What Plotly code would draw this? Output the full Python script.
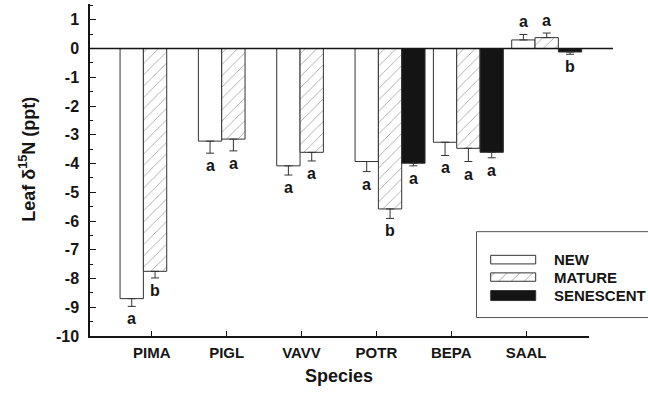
import plotly.graph_objects as go

# ---------------- data ----------------
SPECIES = ["PIMA", "PIGL", "VAVV", "POTR", "BEPA", "SAAL"]
NEW = [-8.70, -3.22, -4.08, -3.93, -3.26, 0.30]
NEW_ERR = [0.27, 0.42, 0.32, 0.35, 0.46, 0.19]
MATURE = [-7.75, -3.15, -3.61, -5.58, -3.47, 0.38]
MATURE_ERR = [0.23, 0.41, 0.30, 0.33, 0.46, 0.16]
SENESCENT = [None, None, None, -3.99, -3.61, -0.12]
SENESCENT_ERR = [None, None, None, 0.09, 0.19, 0.08]
NEW_SIG = ["a", "a", "a", "a", "a", "a"]
MATURE_SIG = ["b", "a", "a", "b", "a", "a"]
SENESCENT_SIG = [None, None, None, "a", "a", "b"]
Y_TICKS = [1, 0, -1, -2, -3, -4, -5, -6, -7, -8, -9, -10]

# ---------------- layout constants ----------------
FONT = "Liberation Sans, Arial, sans-serif"
INK = "#151515"
BAR_W = 0.3116
GROUP_STEP = 1.0462
GROUP_START = -0.4234
X_RANGE = [-0.8249, 5.8399]
Y_RANGE = [-10, 1.55]


def bold(size):
    return dict(family=FONT, size=size, color=INK, weight="bold")


series = [
    ("NEW", NEW, NEW_ERR, NEW_SIG, dict(color="white")),
    ("MATURE", MATURE, MATURE_ERR, MATURE_SIG,
     dict(color="white", pattern=dict(shape="/", size=8, solidity=0.1,
                                      fgcolor="#3a3a3a", bgcolor="white"))),
    ("SENESCENT", SENESCENT, SENESCENT_ERR, SENESCENT_SIG, dict(color="#141414")),
]

fig = go.Figure()
annotations = []
for s, (name, vals, errs, sigs, mk) in enumerate(series):
    xs, ys, ep, em = [], [], [], []
    for g, v in enumerate(vals):
        if v is None:
            continue
        xc = GROUP_START + g * GROUP_STEP + (s + 0.5) * BAR_W
        xs.append(xc)
        ys.append(v)
        e = errs[g]
        ep.append(e if v >= 0 else 0)
        em.append(e if v < 0 else 0)
        if sigs[g]:
            end = v + e if v >= 0 else v - e
            annotations.append(dict(
                x=xc, y=end, xref="x", yref="y", text=sigs[g], showarrow=False,
                yanchor="bottom" if v >= 0 else "top",
                yshift=2 if v >= 0 else -2,
                font=bold(16)))
    fig.add_trace(go.Bar(
        x=xs, y=ys, width=BAR_W, name=name, showlegend=False,
        marker=dict(line=dict(color="#333333", width=1), **mk),
        error_y=dict(type="data", symmetric=False, array=ep, arrayminus=em,
                     color="#333333", thickness=1, width=4),
    ))

# ---------------- custom legend (helper axes, pixel-like units) ----------------
LEG_ROWS = [("NEW", 255.7, 264.3, dict(fillcolor="white")),
            ("MATURE", 273.3, 281.7, dict(fillcolor="white",
                                           fillpattern=dict(shape="/", size=9, solidity=0.1,
                                                            fgcolor="#3a3a3a", bgcolor="white"))),
            ("SENESCENT", 291.0, 301.0, dict(fillcolor="#141414"))]
SW_X0, SW_X1, TXT_X = 490.7, 535.7, 551.5
for name, y0, y1, fill in LEG_ROWS:
    fig.add_trace(go.Scatter(
        x=[SW_X0, SW_X1, SW_X1, SW_X0, SW_X0], y=[y0, y0, y1, y1, y0],
        xaxis="x2", yaxis="y2", mode="lines", fill="toself",
        line=dict(color="#333333", width=1), showlegend=False, hoverinfo="skip", **fill))
    annotations.append(dict(x=TXT_X, y=(y0 + y1) / 2, xref="x2", yref="y2", text=name,
                            showarrow=False, xanchor="left", yanchor="middle",
                            font=bold(15)))

# axis titles
annotations.append(dict(x=0.4471, y=-0.119, xref="paper", yref="paper", text="Species",
                        showarrow=False, xanchor="center", yanchor="middle",
                        font=bold(18)))
annotations.append(dict(x=-0.111, y=0.531, xref="paper", yref="paper",
                        text="Leaf δ<sup>15</sup>N (ppt)", textangle=-90,
                        showarrow=False, xanchor="center", yanchor="middle",
                        font=bold(18)))

shapes = [
    # zero line extending past plot
    dict(type="line", xref="paper", yref="y", x0=0, x1=0.9373, y0=0, y1=0,
         line=dict(color=INK, width=1.5), layer="above"),
    # legend frame (right side cut off by the page edge)
    dict(type="rect", xref="x2", yref="y2", x0=476.5, x1=700, y0=232, y1=318,
         line=dict(color="#555555", width=1), fillcolor="rgba(0,0,0,0)", layer="below"),
]

fig.update_layout(
    width=648, height=394,
    margin=dict(l=90, r=0, t=4, b=57.5),
    paper_bgcolor="white", plot_bgcolor="white",
    barmode="overlay",
    font=dict(family=FONT, color=INK),
    xaxis=dict(domain=[0, 499 / 558], range=X_RANGE, tickvals=list(range(len(SPECIES))),
               ticktext=SPECIES, ticks="inside", ticklen=5, tickcolor=INK,
               showline=True, linecolor=INK, linewidth=1.5, showgrid=False, zeroline=False,
               tickfont=bold(15), ticklabelstandoff=2),
    yaxis=dict(range=Y_RANGE, tickvals=Y_TICKS, ticktext=[str(t) for t in Y_TICKS],
               ticks="inside", ticklen=6, tickcolor=INK,
               minor=dict(ticks="inside", ticklen=3, dtick=0.5, tickcolor=INK, showgrid=False),
               showline=True, linecolor=INK, linewidth=1.5, showgrid=False, zeroline=False,
               tickfont=bold(16), ticklabelstandoff=6),
    xaxis2=dict(domain=[(474 - 90) / 558, 1], range=[474, 648], anchor="y2", visible=False,
                fixedrange=True),
    yaxis2=dict(domain=[(336.5 - 320) / 332.5, (336.5 - 230) / 332.5], range=[320, 230],
                anchor="x2", visible=False, fixedrange=True),
    annotations=annotations,
    shapes=shapes,
)

fig.write_html("out.html",
               config={"displayModeBar": False},
               post_script="document.body.style.margin='0';document.body.style.overflow='hidden';")
